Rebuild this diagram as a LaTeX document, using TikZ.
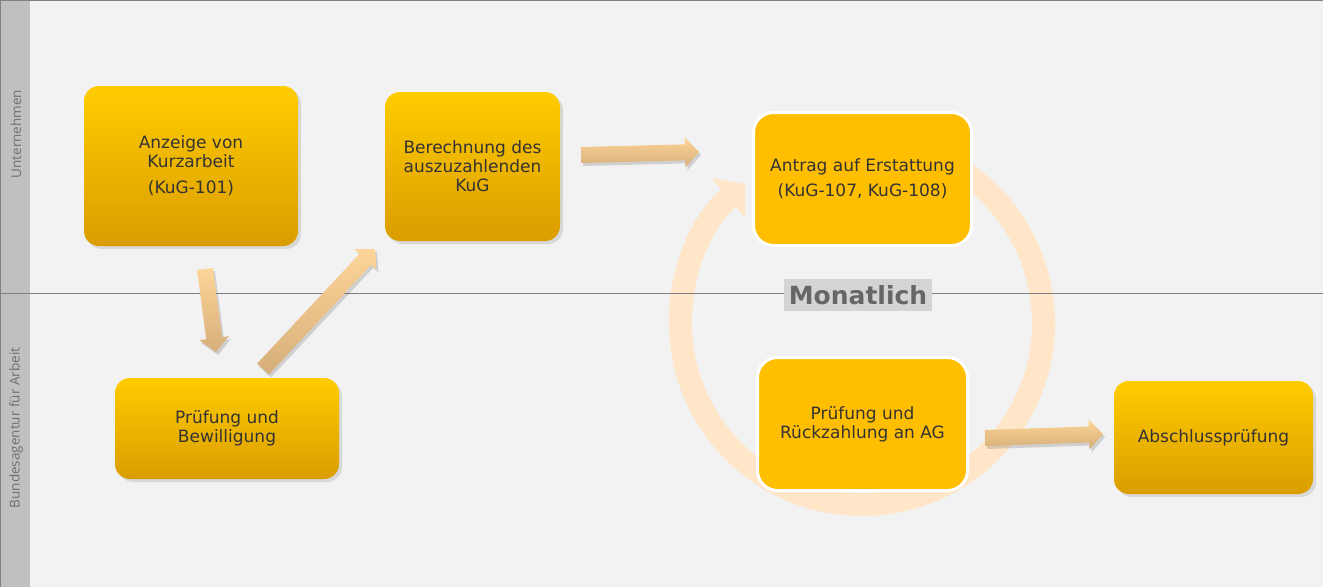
\documentclass[tikz,border=0pt]{standalone}
\usepackage{fontspec}
\setmainfont{DejaVu Sans}
\newfontfamily\lanefont{Open Sans}
\usetikzlibrary{arrows.meta,shadows,calc}
\definecolor{bg}{HTML}{F2F2F2}
\definecolor{strip}{HTML}{C0C0C0}
\definecolor{sep}{HTML}{808080}
\definecolor{gtop}{HTML}{FFCC00}
\definecolor{gbot}{HTML}{DA9D00}
\definecolor{solid}{HTML}{FFBE00}
\definecolor{txt}{HTML}{333333}
\definecolor{ringc}{HTML}{FFE6C8}
\definecolor{atop}{HTML}{FDD598}
\definecolor{abot}{HTML}{D6AE7A}
\definecolor{monbg}{HTML}{D4D4D4}
\definecolor{montx}{HTML}{666666}
\definecolor{lanetx}{HTML}{707070}
\newcommand\blkarrow[2]{%
  \coordinate (bah) at ($(#2)!14pt!(#1)$);
  \fill[black,opacity=0.14,transform canvas={shift={(2pt,-3pt)}}]
    ($(#1)!8pt!90:(#2)$) -- ($(bah)!8pt!90:(#2)$) -- ($(bah)!15pt!90:(#2)$) -- (#2)
    -- ($(bah)!15pt!-90:(#2)$) -- ($(bah)!8pt!-90:(#2)$) -- ($(#1)!8pt!-90:(#2)$) -- cycle;
  \path[top color=atop,bottom color=abot]
    ($(#1)!8pt!90:(#2)$) -- ($(bah)!8pt!90:(#2)$) -- ($(bah)!15pt!90:(#2)$) -- (#2)
    -- ($(bah)!15pt!-90:(#2)$) -- ($(bah)!8pt!-90:(#2)$) -- ($(#1)!8pt!-90:(#2)$) -- cycle;
}
\begin{document}
\begin{tikzpicture}[x=1pt,y=-1pt,
  boxtext/.style={font=\fontsize{17}{19}\selectfont, text=txt, align=center, inner sep=0pt},
  gradbox/.style={boxtext, rounded corners=15pt, top color=gtop, bottom color=gbot,
    drop shadow={shadow xshift=3pt,shadow yshift=-3pt,opacity=0.22}},
  solidbox/.style={boxtext, rounded corners=20pt, fill=solid, draw=white, line width=3pt},
  lanelabel/.style={font=\lanefont\fontsize{13.5}{15}\selectfont, text=lanetx, rotate=90},
  ring/.style={draw=ringc, line width=23pt}
]
\useasboundingbox (0,0) rectangle (1323,587);
% background
\fill[bg] (0,0) rectangle (1323,587);
\fill[strip] (0,0) rectangle (30,587);
\node[lanelabel] (l1) at (16,134) {Unternehmen};
\node[lanelabel] (l2) at (16,428) {Bundesagentur für Arbeit};
% ring
\coordinate (rc) at (862,323);
\draw[ring, -{Triangle[width=50pt,length=22pt]}] ($(rc)+(-100:181.5)$) arc[start angle=-100, end angle=230, radius=181.5];
% lines
\draw[sep, line width=1pt] (0,0.5) -- (1323,0.5);
\draw[sep, line width=1pt] (0.5,0) -- (0.5,587);
\draw[sep, line width=1pt] (0,293) -- (1323,293);
% boxes
\node[gradbox, minimum width=214pt, minimum height=160pt] (anz) at (191,166) {Anzeige von\\Kurzarbeit\\[7pt](KuG-101)};
\node[gradbox, minimum width=175pt, minimum height=149pt] (ber) at (472.5,166.5) {Berechnung des\\auszuzahlenden\\KuG};
\node[solidbox, minimum width=218pt, minimum height=133pt] (ant) at (862.5,179) {Antrag auf Erstattung\\[6pt](KuG-107, KuG-108)};
\node[gradbox, minimum width=224pt, minimum height=101pt] (pb) at (227,428.5) {Prüfung und\\Bewilligung};
\node[solidbox, minimum width=210pt, minimum height=133pt] (rz) at (862.5,424) {Prüfung und\\Rückzahlung an AG};
\node[gradbox, minimum width=199pt, minimum height=113pt] (abs) at (1213.5,437.5) {Abschlussprüfung};
% block arrows
\coordinate (a1s) at (205,269); \coordinate (a1e) at (216,352);
\coordinate (a2s) at (263,369); \coordinate (a2e) at (375,249);
\coordinate (a3s) at (581,155); \coordinate (a3e) at (699,152);
\coordinate (a4s) at (985,438); \coordinate (a4e) at (1103,434);
\blkarrow{a1s}{a1e}
\blkarrow{a2s}{a2e}
\blkarrow{a3s}{a3e}
\blkarrow{a4s}{a4e}
% label
\node[fill=monbg, text=montx, font=\bfseries\fontsize{25}{28}\selectfont, minimum width=148pt, minimum height=32pt, inner sep=0pt] (mon) at (858,295) {Monatlich};
\end{tikzpicture}
\end{document}
